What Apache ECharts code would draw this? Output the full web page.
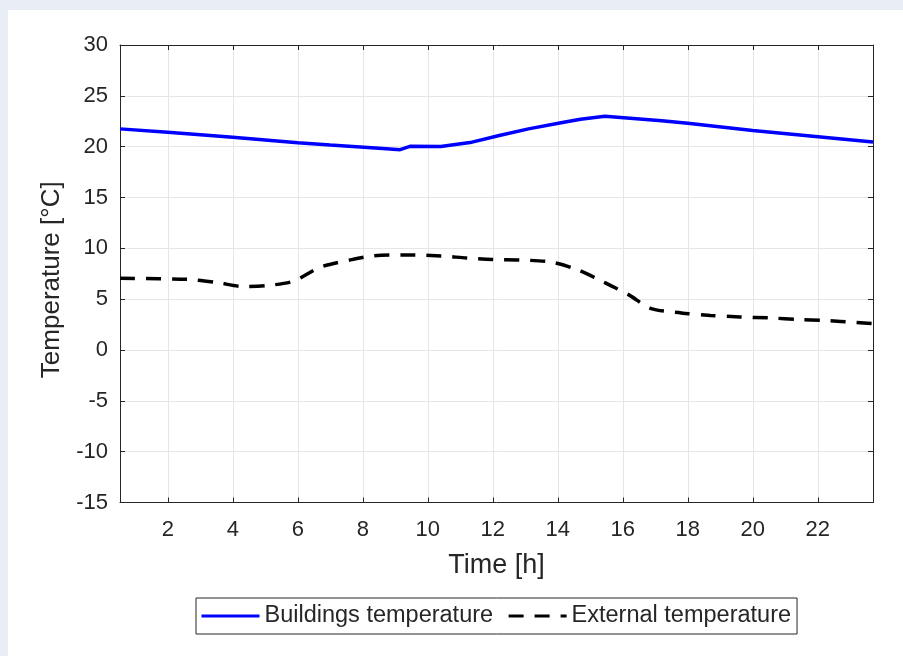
<!DOCTYPE html>
<html>
<head>
<meta charset="utf-8">
<script src="https://cdn.jsdelivr.net/npm/echarts@6/dist/echarts.min.js"></script>
<style>
  html, body { margin: 0; padding: 0; background: #e8edf6; }
  #card { position: absolute; left: 8px; top: 10px; width: 895px; height: 646px; background: #ffffff; }
  #chart { position: absolute; left: 0; top: 0; width: 903px; height: 656px; }
</style>
</head>
<body>
<div id="card"></div>
<div id="chart"></div>
<script>
// Data
const hoursBuildings = [0.53, 2, 4, 6, 7, 8.5, 9.15, 9.45, 10.4, 11.3, 12.2, 13.1, 14.1, 14.7, 15.45, 17.2, 18, 20, 23.7];
const buildingsTemp = [21.75, 21.42, 20.92, 20.38, 20.16, 19.85, 19.7, 20.03, 20.02, 20.4, 21.1, 21.75, 22.35, 22.7, 23.0, 22.55, 22.3, 21.6, 20.45];

const hoursExternal = [0.53, 2.6, 3.5, 4.3, 5.05, 5.85, 6.7, 7.6, 8.3, 9.35, 10.4, 11.2, 12.0, 12.85, 13.8, 14.6, 15.4, 16.2, 16.85, 17.8, 18.7, 19.6, 20.55, 21.4, 22.2, 23.2, 23.7];
const externalTemp = [7.05, 6.95, 6.65, 6.25, 6.35, 6.75, 8.15, 8.85, 9.25, 9.35, 9.25, 9.05, 8.9, 8.85, 8.65, 7.9, 6.7, 5.4, 4.1, 3.65, 3.4, 3.25, 3.15, 3.0, 2.9, 2.7, 2.6];

const xTicks = [2, 4, 6, 8, 10, 12, 14, 16, 18, 20, 22];
const yMin = -15, yMax = 30, yStep = 5;
const xMin = 0.53, xMax = 23.7;

const seriesNames = ['Buildings temperature', 'External temperature'];

const FONT = 'Liberation Sans, Arial, Helvetica, sans-serif';
const AX = '#262626';

const chart = echarts.init(document.getElementById('chart'), null, { renderer: 'canvas' });

const baseX = {
  type: 'value', gridIndex: 0, min: xMin, max: xMax,
  axisLine: { show: true, onZero: false, lineStyle: { color: AX, width: 1 } },
  axisTick: { show: true, inside: true, length: 5, customValues: xTicks, lineStyle: { color: AX, width: 1 } }
};
const baseY = {
  type: 'value', gridIndex: 0, min: yMin, max: yMax, interval: yStep,
  axisLine: { show: true, onZero: false, lineStyle: { color: AX, width: 1 } },
  axisTick: { show: true, inside: true, length: 5, lineStyle: { color: AX, width: 1 } }
};

chart.setOption({
  animation: false,
  backgroundColor: 'transparent',
  grid: { left: 120, right: 30, top: 45, bottom: 153.5, containLabel: false },
  xAxis: [
    Object.assign({}, baseX, {
      position: 'bottom',
      axisLabel: { show: true, customValues: xTicks, color: AX, fontSize: 22, fontFamily: FONT, margin: 16 },
      splitLine: { show: true, lineStyle: { color: '#e6e6e6', width: 1 } },
      name: 'Time [h]', nameLocation: 'middle', nameGap: 50,
      nameTextStyle: { color: AX, fontSize: 27, fontFamily: FONT }
    }),
    Object.assign({}, baseX, {
      position: 'top',
      axisLabel: { show: false },
      splitLine: { show: false }
    })
  ],
  yAxis: [
    Object.assign({}, baseY, {
      position: 'left',
      axisLabel: { show: true, color: AX, fontSize: 22, fontFamily: FONT, margin: 12 },
      splitLine: { show: true, lineStyle: { color: '#e6e6e6', width: 1 } },
      name: 'Temperature [°C]', nameLocation: 'middle', nameGap: 45, nameRotate: 90,
      nameTextStyle: { color: AX, fontSize: 26, fontFamily: FONT, padding: [0, 12, 0, 0] }
    }),
    Object.assign({}, baseY, {
      position: 'right',
      axisLabel: { show: false },
      splitLine: { show: false }
    })
  ],
  legend: {
    data: seriesNames,
    left: 196, top: 598,
    orient: 'horizontal',
    itemWidth: 58, itemHeight: 14, itemGap: 14,
    padding: [6, 6, 6, 4],
    borderColor: AX, borderWidth: 1, borderRadius: 0,
    backgroundColor: '#ffffff',
    itemStyle: { opacity: 0 },
    lineStyle: { width: 3 },
    textStyle: { color: AX, fontSize: 23.5, fontFamily: FONT }
  },
  series: [
    {
      name: seriesNames[0], type: 'line', xAxisIndex: 0, yAxisIndex: 0,
      data: hoursBuildings.map((t, i) => [t, buildingsTemp[i]]),
      symbol: 'none', smooth: false,
      lineStyle: { color: '#0000ff', width: 3.5 },
      itemStyle: { color: '#0000ff' }
    },
    {
      name: seriesNames[1], type: 'line', xAxisIndex: 0, yAxisIndex: 0,
      data: hoursExternal.map((t, i) => [t, externalTemp[i]]),
      symbol: 'none', smooth: 0.3,
      lineStyle: { color: '#000000', width: 3.5, type: [15, 11] },
      itemStyle: { color: '#000000' }
    }
  ]
});
</script>
</body>
</html>
